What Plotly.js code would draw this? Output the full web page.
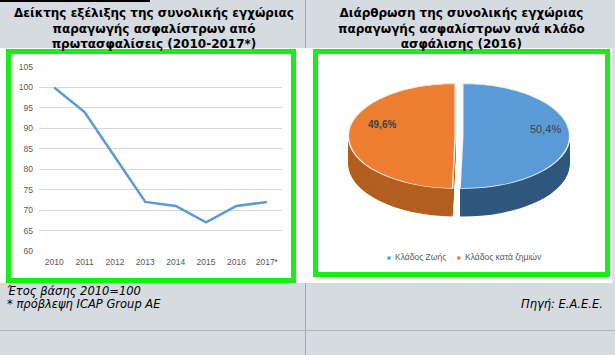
<!DOCTYPE html>
<html><head><meta charset="utf-8">
<script src="https://cdn.plot.ly/plotly-3.0.1.min.js"></script>
<style>
html,body{margin:0;padding:0;background:#fff;width:615px;height:355px;overflow:hidden}
#pieWrap{position:absolute;left:318px;top:54px;width:287px;height:218px;background:#fff;overflow:hidden}
#pie{position:absolute;left:0;top:0;width:287px;height:420px;transform:scaleY(0.49);transform-origin:0 0}
#main{position:absolute;left:0;top:0;width:615px;height:355px}
</style></head><body>
<div id="pieWrap"><div id="pie"></div></div>
<div id="main"></div>
<script>
// ---- data ----
const years = ['2010','2011','2012','2013','2014','2015','2016','2017*'];
const indexValues = [100, 94, 83, 72, 71, 67, 71, 72];
const yTicks = [60, 65, 70, 75, 80, 85, 90, 95, 100, 105];
const branches = ['Κλάδος Ζωής', 'Κλάδος κατά ζημιών'];
const branchShares = [50.4, 49.6];

const branchColors = ['#5b9bd5', '#ed7d31'];
const branchSideColors = ['#30577d', '#b35f1f'];
const cfg = {displayModeBar:false, staticPlot:true};

// ---- pie (flattened to ellipse by CSS) ----
const S = 0.49, PW = 287, PH = 420, R = 107, PULL = 0.035;
const pcx = 141, pcy = 82 / S, depth = 28 / S;
const half = R * (1 + PULL);
function dom(d){
  const cy = pcy + d;
  return {x:[(pcx-half)/PW, (pcx+half)/PW], y:[1-(cy+half)/PH, 1-(cy-half)/PH]};
}
const pieTraces = [];
for (let d = depth; d > 0; d -= 3) {
  pieTraces.push({type:'pie', values:branchShares, labels:branches, sort:false,
    direction:'clockwise', rotation:0, pull:[PULL, PULL],
    marker:{colors:branchSideColors, line:{width:0}},
    textinfo:'none', hoverinfo:'skip', domain:dom(d), showlegend:false});
}
pieTraces.push({type:'pie', values:branchShares, labels:branches, sort:false,
  direction:'clockwise', rotation:0, pull:[PULL, PULL],
  marker:{colors:branchColors, line:{color:'#f4f4f4', width:1.5}},
  textinfo:'none', hoverinfo:'skip', domain:dom(0), showlegend:false});
Plotly.newPlot('pie', pieTraces, {width:PW, height:PH, margin:{l:0,r:0,t:0,b:0},
  paper_bgcolor:'rgba(0,0,0,0)', showlegend:false}, cfg);

// ---- main figure ----
const FW = 615, FH = 355;
const X = p => p / FW, Y = p => 1 - p / FH;
function rect(x0,y0,x1,y1,fill){ return {type:'rect', xref:'paper', yref:'paper', x0:X(x0), x1:X(x1), y0:Y(y0), y1:Y(y1), fillcolor:fill, line:{width:0}, layer:'below'}; }
function line(x0,y0,x1,y1,col){ return {type:'line', xref:'paper', yref:'paper', x0:X(x0), x1:X(x1), y0:Y(y0), y1:Y(y1), line:{color:col, width:1}, layer:'below'}; }
function box(x0,y0,x1,y1){ return {type:'rect', xref:'paper', yref:'paper', x0:X(x0), x1:X(x1), y0:Y(y0), y1:Y(y1), line:{color:'#14f014', width:5}, fillcolor:'rgba(0,0,0,0)', layer:'above'}; }

const gray = '#d6dbe2';
const shapes = [
  rect(0,0,615,48,gray),
  rect(0,0,150,2,'#000'),
  rect(0,283,615,355,gray),
  rect(612,48,615,283,'#dcdfe4'),
  line(305.5,0,305.5,48,'#a6a6a6'),
  line(305.5,283,305.5,355,'#a6a6a6'),
  line(0,330.5,615,330.5,'#b4b4b4'),
  box(8.5,51.5,293.5,280.5),
  box(315.5,51.5,607.5,274.5)
];

const fmt = v => v.toFixed(1).replace('.', ',') + '%';
const hdrFont = {family:'DejaVu Sans', size:12, color:'#000'};
const footFont = {family:'DejaVu Sans', size:11.5, color:'#000'};
const annotations = [
  {xref:'paper', yref:'paper', x:X(154), y:Y(28), xanchor:'center', yanchor:'middle', showarrow:false,
   text:'<b>Δείκτης εξέλιξης της συνολικής εγχώριας<br>παραγωγής ασφαλίστρων από<br>πρωτασφαλίσεις (2010-2017*)</b>', font:hdrFont},
  {xref:'paper', yref:'paper', x:X(461), y:Y(28), xanchor:'center', yanchor:'middle', showarrow:false,
   text:'<b>Διάρθρωση της συνολικής εγχώριας<br>παραγωγής ασφαλίστρων ανά κλάδο<br>ασφάλισης (2016)</b>', font:hdrFont},
  {xref:'paper', yref:'paper', x:X(5), y:Y(291), xanchor:'left', yanchor:'middle', showarrow:false,
   text:'<i>Έτος βάσης 2010=100</i>', font:footFont},
  {xref:'paper', yref:'paper', x:X(5), y:Y(304), xanchor:'left', yanchor:'middle', showarrow:false,
   text:'<i>* πρόβλεψη ICAP Group AE</i>', font:footFont},
  {xref:'paper', yref:'paper', x:X(605), y:Y(304), xanchor:'right', yanchor:'middle', showarrow:false,
   text:'<i>Πηγή: Ε.Α.Ε.Ε.</i>', font:footFont},
  // pie labels
  {xref:'paper', yref:'paper', x:X(545), y:Y(129), xanchor:'center', yanchor:'middle', showarrow:false,
   text:fmt(branchShares[0]), font:{family:'Liberation Sans', size:11, color:'#404040'}},
  {xref:'paper', yref:'paper', x:X(382), y:Y(125), xanchor:'center', yanchor:'middle', showarrow:false,
   text:'<b>'+fmt(branchShares[1])+'</b>', font:{family:'Liberation Sans', size:10, color:'#404040'}},
  // legend
  {xref:'paper', yref:'paper', x:X(389), y:Y(257), xanchor:'center', yanchor:'middle', showarrow:false,
   text:'■', font:{family:'DejaVu Sans', size:4, color:branchColors[0]}},
  {xref:'paper', yref:'paper', x:X(393), y:Y(257), xanchor:'left', yanchor:'middle', showarrow:false,
   text:branches[0], font:{family:'Liberation Sans', size:8.5, color:'#595959'}},
  {xref:'paper', yref:'paper', x:X(459), y:Y(257), xanchor:'center', yanchor:'middle', showarrow:false,
   text:'■', font:{family:'DejaVu Sans', size:4, color:branchColors[1]}},
  {xref:'paper', yref:'paper', x:X(463), y:Y(257), xanchor:'left', yanchor:'middle', showarrow:false,
   text:branches[1], font:{family:'Liberation Sans', size:8.5, color:'#595959'}}
];

const tickFont = {family:'Liberation Sans', size:8.5, color:'#595959'};
const layout = {
  width:FW, height:FH, margin:{l:0,r:0,t:0,b:0},
  paper_bgcolor:'rgba(0,0,0,0)', plot_bgcolor:'rgba(0,0,0,0)', showlegend:false,
  xaxis:{type:'category', domain:[X(39), X(282)], range:[-0.5, 7.5], showgrid:false, zeroline:false,
    showline:false, ticks:'', tickfont:tickFont, ticklabelstandoff:4, fixedrange:true},
  yaxis:{domain:[Y(251), Y(67)], range:[60, 105], tickvals:yTicks, gridcolor:'#d9d9d9', gridwidth:1,
    zeroline:false, showline:false, ticks:'', tickfont:tickFont, ticklabelstandoff:5, fixedrange:true},
  shapes:shapes, annotations:annotations
};
Plotly.newPlot('main', [{type:'scatter', mode:'lines', x:years, y:indexValues,
  line:{color:'#5b9bd5', width:2.5}, hoverinfo:'skip'}], layout, cfg);
</script></body></html>
